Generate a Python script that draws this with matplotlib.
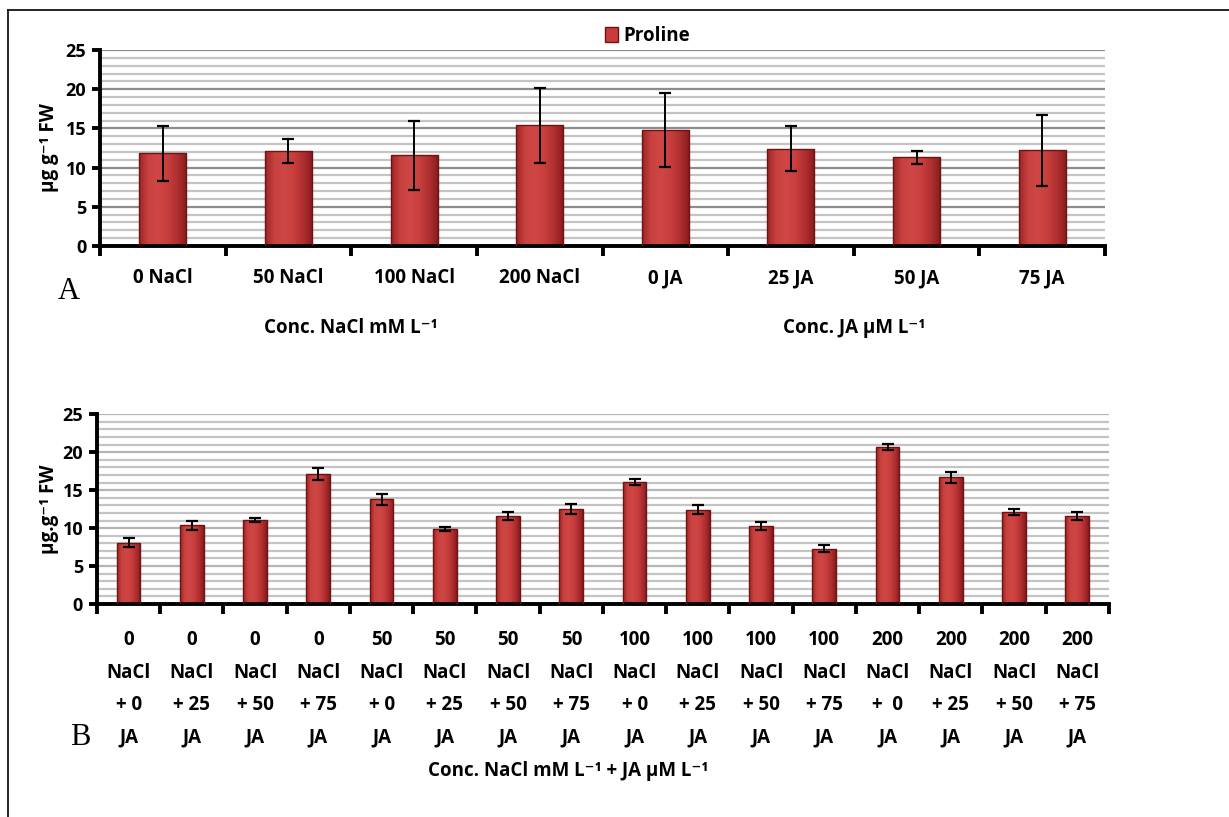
import numpy as np
import matplotlib
matplotlib.use("Agg")
import matplotlib.pyplot as plt
from matplotlib.colors import LinearSegmentedColormap
from matplotlib.lines import Line2D
from matplotlib.patches import Patch
from matplotlib.transforms import blended_transform_factory

plt.rcParams['font.family'] = ['Open Sans', 'DejaVu Sans']
plt.rcParams['font.weight'] = 'bold'
plt.rcParams['axes.labelweight'] = 'bold'

# panel A: single treatments
single_labels = ["0 NaCl", "50 NaCl", "100 NaCl", "200 NaCl",
                 "0 JA", "25 JA", "50 JA", "75 JA"]
single_means = [11.8, 12.1, 11.6, 15.4, 14.8, 12.4, 11.3, 12.2]
single_err = [3.5, 1.55, 4.4, 4.8, 4.75, 2.85, 0.8, 4.55]

# panel B: NaCl + JA combinations
combo_labels = ["0\nNaCl\n+ 0\nJA", "0\nNaCl\n+ 25\nJA", "0\nNaCl\n+ 50\nJA", "0\nNaCl\n+ 75\nJA",
                "50\nNaCl\n+ 0\nJA", "50\nNaCl\n+ 25\nJA", "50\nNaCl\n+ 50\nJA", "50\nNaCl\n+ 75\nJA",
                "100\nNaCl\n+ 0\nJA", "100\nNaCl\n+ 25\nJA", "100\nNaCl\n+ 50\nJA", "100\nNaCl\n+ 75\nJA",
                "200\nNaCl\n+  0\nJA", "200\nNaCl\n+ 25\nJA", "200\nNaCl\n+ 50\nJA", "200\nNaCl\n+ 75\nJA"]
combo_means = [8.1, 10.4, 11.1, 17.1, 13.8, 9.9, 11.6, 12.5,
               16.1, 12.4, 10.3, 7.3, 20.7, 16.7, 12.1, 11.6]
combo_err = [0.55, 0.6, 0.27, 0.8, 0.7, 0.25, 0.5, 0.65,
             0.4, 0.6, 0.55, 0.45, 0.35, 0.7, 0.4, 0.5]

bar_cmap = LinearSegmentedColormap.from_list(
    "bar", ["#9e2527", "#c94240", "#cf4745", "#c83e3d", "#b02f30", "#861b1d"])


def shade_bars(ax, bars):
    grad = np.linspace(0, 1, 128).reshape(1, -1)
    for b in bars:
        x0, y0 = b.get_x(), b.get_y()
        w, h = b.get_width(), b.get_height()
        im = ax.imshow(grad, cmap=bar_cmap, aspect='auto',
                       extent=[x0, x0 + w, y0, y0 + h], zorder=2.5)
        im.set_clip_path(b)


def draw_panel(ax, labels, means, err, major_grid):
    x = np.arange(len(labels))
    bars = ax.bar(x, means, width=0.375, color="#c83c3b",
                  edgecolor="#6e1214", linewidth=1.0, zorder=2)
    shade_bars(ax, bars)
    for b in bars:
        b.set_zorder(3)
        b.set_facecolor("none")
    ax.errorbar(x, means, yerr=err, fmt='none', ecolor='black',
                elinewidth=1.4, capsize=4, capthick=1.6, zorder=4)

    ax.set_xlim(-0.5, len(labels) - 0.5)
    ax.set_ylim(0, 25)
    ax.set_yticks(np.arange(0, 26, 5))
    ax.set_yticks(np.arange(0, 26, 1), minor=True)
    ax.yaxis.grid(True, which='minor', color='#c4c4c4', lw=1.6)
    ax.yaxis.grid(True, which='major', color=major_grid, lw=1.6)
    ax.set_axisbelow(True)

    ax.set_xticks(x)
    ax.set_xticklabels(labels, fontsize=13.5)
    ax.set_xticks(np.arange(-0.5, len(labels)), minor=True)
    ax.tick_params(axis='x', which='major', length=0, pad=16)
    ax.tick_params(axis='x', which='minor', length=7, width=2.8, direction='out')
    ax.tick_params(axis='y', which='major', length=6, width=2.8,
                   direction='out', labelsize=13, pad=4)
    ax.tick_params(axis='y', which='minor', length=0)

    for s in ['top', 'right']:
        ax.spines[s].set_visible(False)
    for s in ['left', 'bottom']:
        ax.spines[s].set_linewidth(2.8)


fig = plt.figure(figsize=(12.29, 8.17), dpi=100)

ax1 = fig.add_axes([0.0814, 0.6989, 0.8177, 0.2399])
draw_panel(ax1, single_labels, single_means, single_err, '#8c8c8c')
ax1.set_ylabel('µg g⁻¹ FW', fontsize=13.5, fontweight='bold')
ax1.yaxis.set_label_coords(-0.041, 0.5)

trans1 = blended_transform_factory(ax1.transData, fig.transFigure)
ax1.text(1.5, 0.5985, 'Conc. NaCl mM L⁻¹', transform=trans1,
         ha='center', va='center', fontsize=13.5)
ax1.text(5.5, 0.5985, 'Conc. JA µM L⁻¹', transform=trans1,
         ha='center', va='center', fontsize=13.5)

ax2 = fig.add_axes([0.0789, 0.2607, 0.8234, 0.2322])
draw_panel(ax2, combo_labels, combo_means, combo_err, '#b4b4b4')
for lbl in ax2.get_xticklabels():
    lbl.set_linespacing(1.82)
ax2.tick_params(axis='x', which='major', pad=19)
ax2.set_ylabel('µg.g⁻¹ FW', fontsize=13.5, fontweight='bold')
ax2.yaxis.set_label_coords(-0.038, 0.5)

fig.text(0.462, 0.0563, 'Conc. NaCl mM L⁻¹ + JA µM L⁻¹',
         ha='center', va='center', fontsize=13.5)

fig.text(69 / 1229, 0.6426, 'A', family='Liberation Serif', weight='normal',
         fontsize=22, ha='center', va='center')
fig.text(80 / 1229, 0.0967, 'B', family='Liberation Serif', weight='normal',
         fontsize=22, ha='center', va='center')

fig.legend(handles=[Patch(facecolor='#c83c3b', edgecolor='#6e1214', label='Proline')],
           loc='center', bbox_to_anchor=(0.527, 0.956), frameon=False,
           fontsize=13.5, handlelength=0.7, handleheight=0.9, handletextpad=0.3)

# outer frame (top and left edges only)
fig.add_artist(Line2D([8 / 1229, 1], [1 - 10 / 817] * 2, color='black',
                      lw=1.2, transform=fig.transFigure))
fig.add_artist(Line2D([8 / 1229] * 2, [0, 1 - 10 / 817], color='black',
                      lw=1.2, transform=fig.transFigure))

fig.savefig("out.png", dpi=100)
plt.close(fig)
